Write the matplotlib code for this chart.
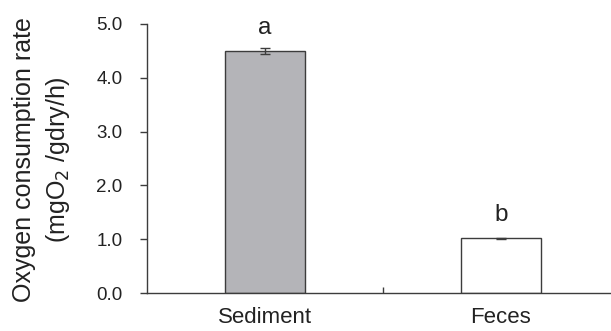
import matplotlib
matplotlib.use("Agg")
import matplotlib.pyplot as plt
from matplotlib.ticker import FixedLocator

plt.rcParams['font.family'] = ['Liberation Sans', 'DejaVu Sans']

categories = ["Sediment", "Feces"]
values = [4.50, 1.02]
errors = [0.05, 0.01]
letters = ["a", "b"]
letter_y = [4.81, 1.34]
yticks = [0.0, 1.0, 2.0, 3.0, 4.0, 5.0]
ytick_labels = ["0.0", "1.0", "2.0", "3.0", "4.0", "5.0"]

bar_colors = ["#b4b4b8", "#ffffff"]
edge = "#3c3c3c"

fig = plt.figure(figsize=(6.11, 3.31), dpi=100)
ax = fig.add_axes([147/611, 38/331, 472/611, 269/331])

x = list(range(len(categories)))
ax.bar(x, values, width=0.335, color=bar_colors, edgecolor=edge, linewidth=1.0, zorder=2)
ax.errorbar(x, values, yerr=errors, fmt='none', ecolor=edge, elinewidth=1.0,
            capsize=3.3, capthick=1.0, zorder=3)

for xi, lt, ly in zip(x, letters, letter_y):
    ax.text(xi, ly, lt, ha='center', va='baseline', fontsize=17.5, color='#222222')

ax.set_xlim(-0.5, 1.5)
ax.set_ylim(0, 5.0)
ax.set_yticks(yticks)
ax.set_yticklabels(ytick_labels)
ax.set_xticks(x)
ax.set_xticklabels(categories)
ax.xaxis.set_minor_locator(FixedLocator([0.5, 1.5]))

ax.tick_params(axis='y', direction='out', length=5, width=1.0, color=edge,
               labelsize=13.5, pad=12.5, labelcolor='#222222')
ax.tick_params(axis='x', which='major', length=0, labelsize=16, pad=10,
               labelcolor='#222222')
ax.tick_params(axis='x', which='minor', direction='in', length=4.5, width=1.0, color=edge)

for s in ['top', 'right']:
    ax.spines[s].set_visible(False)
for s in ['left', 'bottom']:
    ax.spines[s].set_color(edge)
    ax.spines[s].set_linewidth(1.0)

fig.text(42/611, 1 - 160/331, "Oxygen consumption rate\n(mgO$_2$ /gdry/h)",
         rotation=90, ha='center', va='center', multialignment='center',
         fontsize=18, color='#222222', linespacing=1.35)

fig.savefig("out.png", dpi=100)
